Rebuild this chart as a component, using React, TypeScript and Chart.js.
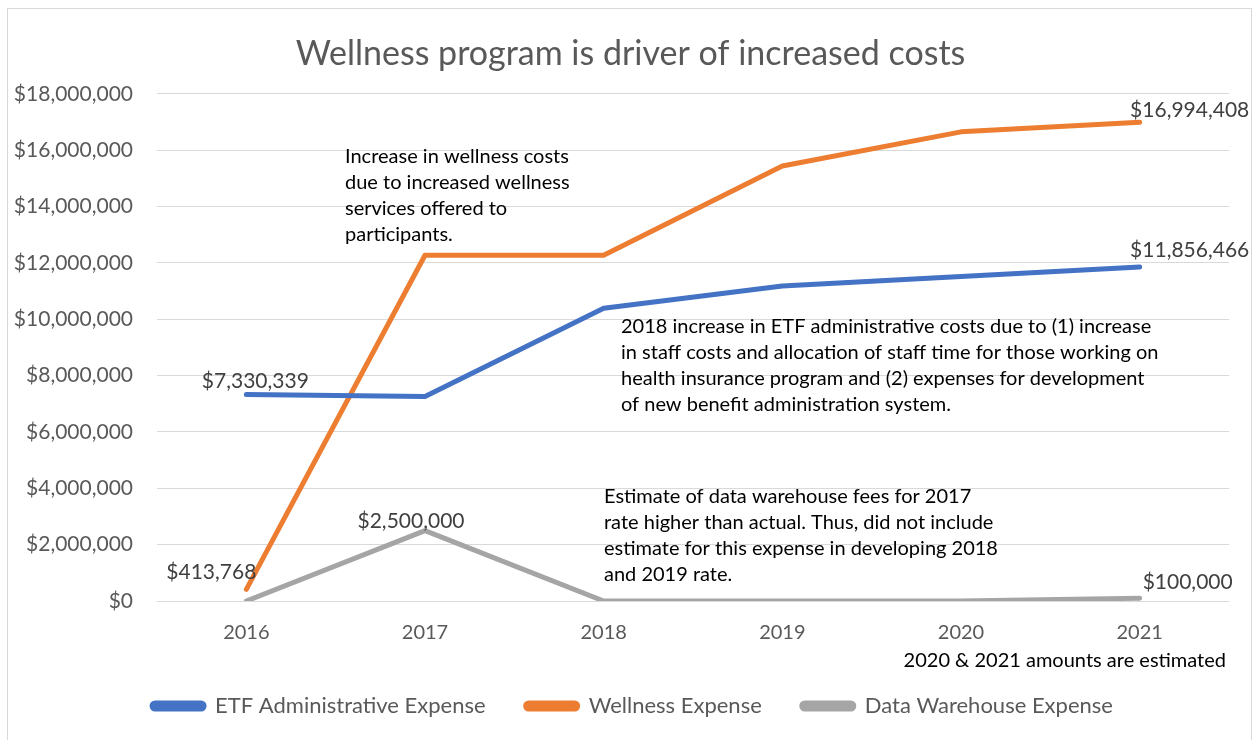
import React, { useEffect, useRef } from "react";
import { Chart, registerables } from "chart.js";

Chart.register(...registerables);

// ---------- data ----------
const years = ["2016", "2017", "2018", "2019", "2020", "2021"];
const seriesNames = ["ETF Administrative Expense", "Wellness Expense", "Data Warehouse Expense"];
const etfAdmin = [7330339, 7260000, 10390000, 11180000, 11520000, 11856466];
const wellness = [413768, 12270000, 12270000, 15440000, 16650000, 16994408];
const dataWarehouse = [0, 2500000, 0, 0, 0, 100000];
const yMin = 0;
const yMax = 18000000;
const yStep = 2000000;
const titleText = "Wellness program is driver of increased costs";
// [series index, point index] of the values that carry a label
const labeledPoints = [
  [0, 0],
  [0, 5],
  [1, 0],
  [1, 5],
  [2, 1],
  [2, 5],
];
const noteWellness = [
  "Increase in wellness costs",
  "due to increased wellness",
  "services offered to",
  "participants.",
];
const noteAdmin = [
  "2018 increase in ETF administrative costs due to (1) increase",
  "in staff costs and allocation of staff time for those working on",
  "health insurance program and (2) expenses for development",
  "of new benefit administration system.",
];
const noteWarehouse = [
  "Estimate of data warehouse fees for 2017",
  "rate higher than actual. Thus, did not include",
  "estimate for this expense in developing 2018",
  "and 2019 rate.",
];
const noteEstimated = "2020 & 2021 amounts are estimated";

// ---------- styles ----------
const FONT = "Lato, 'Open Sans', sans-serif";
const colors = ["#4472C4", "#ED7D31", "#A5A5A5"];
const gridColor = "#D9D9D9";
const axisTextColor = "#595959";
const labelTextColor = "#404040";

// pixel offsets of each value label from its point
const labelOffsets = [
  [9, -13],
  [50, -17],
  [-35, -17],
  [50, -12],
  [-14, -9],
  [48, -16],
];
const notePlacement = [
  { lines: noteWellness, x: 345, y: 157 },
  { lines: noteAdmin, x: 621, y: 327 },
  { lines: noteWarehouse, x: 604, y: 497 },
];
const legendShift = 18;
const titleShift = 16;

const fmt = (v: number) => "$" + Math.round(v).toLocaleString("en-US");

const decorPlugin = {
  id: "decor",
  afterLayout(chart: any) {
    if (chart.legend) {
      chart.legend.left += legendShift;
      chart.legend.right += legendShift;
    }
    const t = chart.titleBlock;
    if (t) {
      t.left += titleShift;
      t.right += titleShift;
    }
  },
  beforeDraw(chart: any) {
    const { ctx, width, height } = chart;
    ctx.save();
    ctx.fillStyle = "#ffffff";
    ctx.fillRect(0, 0, width, height);
    ctx.strokeStyle = gridColor;
    ctx.lineWidth = 1;
    ctx.strokeRect(7.5, 8.5, 1244, height + 10);
    ctx.restore();
  },
  afterDatasetsDraw(chart: any) {
    const { ctx } = chart;
    ctx.save();
    ctx.font = `21px ${FONT}`;
    ctx.fillStyle = labelTextColor;
    ctx.textAlign = "center";
    ctx.textBaseline = "middle";
    labeledPoints.forEach(([s, i], k) => {
      const meta = chart.getDatasetMeta(s);
      const pt = meta.data[i];
      const v = chart.data.datasets[s].data[i] as number;
      ctx.fillText(fmt(v), pt.x + labelOffsets[k][0], pt.y + labelOffsets[k][1]);
    });
    ctx.restore();
  },
  afterDraw(chart: any) {
    const { ctx } = chart;
    ctx.save();
    ctx.font = `20px ${FONT}`;
    ctx.fillStyle = "#000000";
    ctx.textBaseline = "middle";
    ctx.textAlign = "left";
    notePlacement.forEach((n) => {
      n.lines.forEach((line, j) => {
        ctx.fillText(line, n.x, n.y + j * 26);
      });
    });
    ctx.textAlign = "right";
    ctx.fillText(noteEstimated, 1226, 661);
    ctx.restore();
  },
};

export default function App() {
  const canvasRef = useRef<HTMLCanvasElement | null>(null);

  useEffect(() => {
    if (!canvasRef.current) return;
    const seriesData = [etfAdmin, wellness, dataWarehouse];
    const chart = new Chart(canvasRef.current, {
      type: "line",
      data: {
        labels: years,
        datasets: seriesNames.map((name, i) => ({
          label: name,
          data: seriesData[i],
          borderColor: colors[i],
          backgroundColor: colors[i],
          borderWidth: 5,
          borderCapStyle: "round",
          borderJoinStyle: "round",
          pointRadius: 0,
          pointHoverRadius: 0,
          tension: 0,
          fill: false,
        })),
      },
      options: {
        responsive: false,
        animation: false,
        layout: { padding: { left: 0, right: 26, top: 0, bottom: 13 } },
        plugins: {
          title: {
            display: true,
            text: titleText,
            color: axisTextColor,
            font: { family: FONT, size: 34, weight: "normal" },
            padding: { top: 34, bottom: 19 },
          },
          legend: {
            position: "bottom",
            labels: {
              color: axisTextColor,
              font: { family: FONT, size: 22 },
              boxWidth: 52,
              boxHeight: 6,
              useBorderRadius: true,
              borderRadius: 3,
              padding: 40,
            },
          },
          tooltip: { enabled: false },
        },
        scales: {
          x: {
            offset: true,
            grid: { display: false, drawTicks: false, offset: true },
            border: { display: false },
            ticks: {
              color: axisTextColor,
              font: { family: FONT, size: 20 },
              padding: 20,
            },
            afterFit(scale: any) {
              scale.height = 54;
            },
          },
          y: {
            min: yMin,
            max: yMax,
            grid: { color: gridColor, lineWidth: 1, drawTicks: false },
            border: { display: false },
            ticks: {
              stepSize: yStep,
              color: axisTextColor,
              font: { family: FONT, size: 21 },
              padding: 24,
              callback: (v: any) => fmt(Number(v)),
            },
            afterFit(scale: any) {
              scale.width = 157;
            },
          },
        },
      },
      plugins: [decorPlugin],
    } as any);
    return () => chart.destroy();
  }, []);

  return (
    <div style={{ position: "absolute", left: 0, top: 0, width: 1255, height: 740 }}>
      <canvas ref={canvasRef} width={1255} height={740} />
    </div>
  );
}
